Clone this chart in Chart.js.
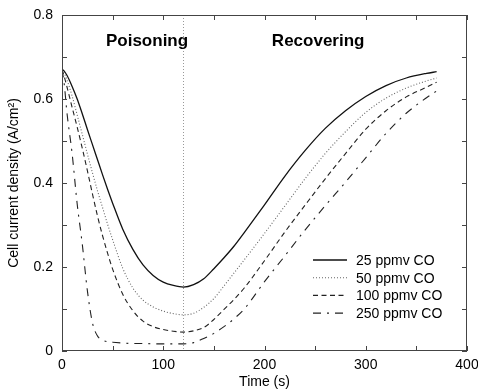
<!DOCTYPE html>
<html>
<head>
<meta charset="utf-8">
<script src="https://cdn.jsdelivr.net/npm/chart.js@4"></script>
<style>
  html, body { margin: 0; padding: 0; background: #fff; }
  #wrap { width: 478px; height: 390px; }
</style>
</head>
<body>
<div id="wrap"><canvas id="coChart" width="478" height="390"></canvas></div>
<script>
// temps (s) commun aux quatre courbes
const temps = [0, 2, 5, 10, 15, 20, 25, 30, 35, 40, 45, 50, 60, 70, 80, 90, 100, 110, 120,
               130, 140, 150, 160, 170, 180, 200, 220, 240, 260, 280, 300, 320, 340, 360, 370];

// densité de courant (A/cm2)
const co25  = [0.670, 0.667, 0.656, 0.630, 0.600, 0.565, 0.528, 0.492, 0.456, 0.420, 0.385, 0.352,
               0.290, 0.242, 0.205, 0.180, 0.164, 0.156, 0.152, 0.158, 0.172, 0.196, 0.222, 0.250,
               0.282, 0.348, 0.416, 0.477, 0.530, 0.572, 0.606, 0.632, 0.650, 0.661, 0.665];
const co50  = [0.670, 0.663, 0.645, 0.607, 0.562, 0.516, 0.470, 0.425, 0.382, 0.342, 0.302, 0.265,
               0.197, 0.150, 0.121, 0.105, 0.095, 0.089, 0.086, 0.090, 0.104, 0.125, 0.155, 0.186,
               0.217, 0.280, 0.345, 0.410, 0.470, 0.522, 0.568, 0.602, 0.626, 0.643, 0.650];
const co100 = [0.670, 0.655, 0.628, 0.580, 0.533, 0.483, 0.430, 0.375, 0.322, 0.275, 0.233, 0.195,
               0.135, 0.096, 0.071, 0.058, 0.051, 0.047, 0.045, 0.048, 0.056, 0.075, 0.099, 0.123,
               0.150, 0.215, 0.283, 0.347, 0.410, 0.470, 0.528, 0.572, 0.605, 0.628, 0.640];
const co250 = [0.670, 0.640, 0.565, 0.470, 0.350, 0.255, 0.145, 0.068, 0.036, 0.026, 0.022, 0.021,
               0.019, 0.018, 0.018, 0.017, 0.017, 0.017, 0.017, 0.020, 0.030, 0.042, 0.058, 0.077,
               0.100, 0.165, 0.226, 0.288, 0.346, 0.402, 0.460, 0.518, 0.566, 0.603, 0.619];

const legendes = ['25 ppmv CO', '50 ppmv CO', '100 ppmv CO', '250 ppmv CO'];
const xTicksMajeurs = [0, 100, 200, 300, 400];
const yTicksMajeurs = [0, 0.2, 0.4, 0.6, 0.8];
const tempsBascule = 120;
const phases = [
    { texte: 'Poisoning', t: 84, y: 0.738 },
    { texte: 'Recovering', t: 253, y: 0.738 }
];

const police = '"Liberation Sans", Arial, Helvetica, sans-serif';
const styles = [
    { couleur: '#111', largeur: 1.3, tirets: [] },
    { couleur: '#666', largeur: 1.1, tirets: [1, 2] },
    { couleur: '#222', largeur: 1.1, tirets: [5, 3.5] },
    { couleur: '#222', largeur: 1.1, tirets: [8, 6, 2, 6] }
];

function serie(valeurs) {
    return temps.map((t, i) => ({ x: t, y: valeurs[i] }));
}

// cadre, graduations vers l'intérieur, ligne de bascule, textes, légende
const decorPlugin = {
    id: 'decor',
    afterDraw(chart) {
        const { ctx, chartArea: a, scales } = chart;
        const sx = scales.x, sy = scales.y;
        ctx.save();

        // ligne pointillée verticale
        const xb = sx.getPixelForValue(tempsBascule);
        ctx.strokeStyle = '#999';
        ctx.lineWidth = 1;
        ctx.setLineDash([1, 2]);
        ctx.beginPath();
        ctx.moveTo(xb, a.top);
        ctx.lineTo(xb, a.bottom);
        ctx.stroke();
        ctx.setLineDash([]);

        // cadre
        ctx.strokeStyle = '#444';
        ctx.lineWidth = 1;
        ctx.strokeRect(a.left + 0.5, a.top + 0.5, a.right - a.left - 1, a.bottom - a.top - 1);

        // graduations
        ctx.beginPath();
        sx.ticks.forEach(tk => {
            const p = Math.round(sx.getPixelForValue(tk.value)) + 0.5;
            ctx.moveTo(p, a.bottom); ctx.lineTo(p, a.bottom - 5);
            ctx.moveTo(p, a.top); ctx.lineTo(p, a.top + 5);
        });
        sy.ticks.forEach(tk => {
            const p = Math.round(sy.getPixelForValue(tk.value)) + 0.5;
            ctx.moveTo(a.left, p); ctx.lineTo(a.left + 5, p);
            ctx.moveTo(a.right, p); ctx.lineTo(a.right - 5, p);
        });
        ctx.stroke();

        // textes des phases
        ctx.fillStyle = '#000';
        ctx.font = 'bold 17px ' + police;
        ctx.textAlign = 'center';
        ctx.textBaseline = 'middle';
        phases.forEach(ph => {
            ctx.fillText(ph.texte, sx.getPixelForValue(ph.t), sy.getPixelForValue(ph.y));
        });

        // titres des axes
        ctx.font = '14px ' + police;
        ctx.fillText('Time (s)', (a.left + a.right) / 2, 382);
        ctx.save();
        ctx.translate(14, (a.top + a.bottom) / 2);
        ctx.rotate(-Math.PI / 2);
        ctx.fillText('Cell current density (A/cm\u00B2)', 0, 0);
        ctx.restore();

        // légende
        ctx.textAlign = 'left';
        legendes.forEach((lab, i) => {
            const yy = 260 + i * 17.7;
            const st = styles[i];
            ctx.strokeStyle = st.couleur;
            ctx.lineWidth = st.largeur;
            ctx.setLineDash(st.tirets);
            ctx.beginPath();
            ctx.moveTo(313, yy);
            ctx.lineTo(347, yy);
            ctx.stroke();
            ctx.setLineDash([]);
            ctx.fillStyle = '#000';
            ctx.fillText(lab, 356, yy + 1);
        });
        ctx.restore();
    }
};

const ctx = document.getElementById('coChart').getContext('2d');
new Chart(ctx, {
    type: 'line',
    data: {
        datasets: [co25, co50, co100, co250].map((v, i) => ({
            label: legendes[i],
            data: serie(v),
            borderColor: styles[i].couleur,
            borderWidth: styles[i].largeur,
            borderDash: styles[i].tirets,
            pointRadius: 0,
            fill: false,
            cubicInterpolationMode: 'monotone'
        }))
    },
    options: {
        responsive: false,
        animation: false,
        devicePixelRatio: 1,
        layout: { padding: { top: 15, right: 11, left: 0, bottom: 0 } },
        plugins: { legend: { display: false }, tooltip: { enabled: false } },
        scales: {
            x: {
                type: 'linear',
                min: 0,
                max: 400,
                grid: { display: false, drawTicks: false },
                border: { display: false },
                afterFit: s => { s.height = 39; s.paddingLeft = 0; s.paddingRight = 0; },
                ticks: {
                    stepSize: 50,
                    autoSkip: false,
                    maxRotation: 0,
                    padding: 6,
                    color: '#000',
                    font: { family: police, size: 14 },
                    callback: v => xTicksMajeurs.includes(v) ? String(v) : ''
                }
            },
            y: {
                type: 'linear',
                min: 0,
                max: 0.8,
                grid: { display: false, drawTicks: false },
                border: { display: false },
                afterFit: s => { s.width = 62; s.paddingTop = 0; s.paddingBottom = 0; },
                ticks: {
                    stepSize: 0.1,
                    autoSkip: false,
                    padding: 9,
                    color: '#000',
                    font: { family: police, size: 14 },
                    callback: v => {
                        const r = Math.round(v * 10) / 10;
                        if (!yTicksMajeurs.some(m => Math.abs(m - r) < 1e-9)) return '';
                        return r === 0 ? '0' : r.toFixed(1);
                    }
                }
            }
        }
    },
    plugins: [decorPlugin]
});
</script>
</body>
</html>
